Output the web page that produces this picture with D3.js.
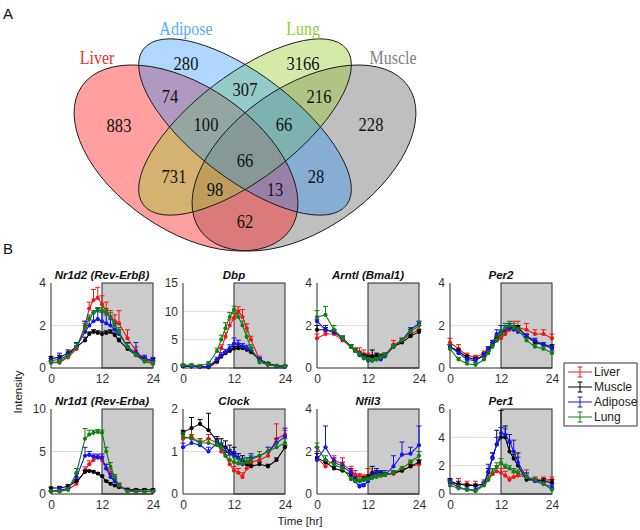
<!DOCTYPE html>
<html><head><meta charset="utf-8">
<script src="https://cdn.jsdelivr.net/npm/d3@7"></script>
<style>body{margin:0;background:#fff}svg{display:block}</style>
</head><body><svg id="c" width="640" height="530"></svg>
<script>
// ---------- Venn data ----------
const vennNames = ["Liver", "Adipose", "Lung", "Muscle"];
const vennRegions = ["L","A","G","M","LA","AG","GM","LG","AM","LM","LAG","AGM","LGM","LAM","LAGM"];
const vennCounts  = [883, 280, 3166, 228, 74, 307, 216, 731, 28, 62, 100, 66, 98, 13, 66];

// ---------- time-course data ----------
const times = [0,2,4,6,8,9,10,11,12,13,14,15,16,18,20,22,24];
const genes = ["Nr1d2 (Rev-Erbβ)", "Dbp", "Arntl (Bmal1)", "Per2", "Nr1d1 (Rev-Erba)", "Clock", "Nfil3", "Per1"];
const yMaxes = [4, 15, 4, 4, 10, 2, 4, 6];
const yTickSteps = [2, 5, 2, 2, 5, 1, 2, 2];
const xTicks = [0, 12, 24];
const tissues = ["Liver", "Muscle", "Adipose", "Lung"];

const liverMean = [
  [0.25,0.25,0.5,0.9,2.0,2.8,3.2,3.3,3.0,2.7,2.4,2.2,2.1,1.4,0.8,0.4,0.2],
  [0.3,0.3,0.2,0.1,1.0,3.5,5.5,7.5,8.8,10.0,9.0,7.0,5.0,1.5,0.6,0.4,0.3],
  [1.4,1.6,1.6,1.3,1.0,0.85,0.75,0.65,0.6,0.5,0.45,0.5,0.6,1.1,1.3,1.6,1.8],
  [1.2,0.9,0.6,0.5,0.7,0.9,1.1,1.3,1.4,1.6,1.8,1.9,1.9,1.8,1.6,1.6,1.4],
  [0.3,0.3,0.5,1.2,2.8,3.5,4.0,4.3,4.0,3.0,2.5,1.8,1.0,0.5,0.4,0.3,0.3],
  [1.3,1.35,1.2,1.3,1.2,1.0,0.9,0.7,0.55,0.5,0.4,0.6,0.75,0.8,0.9,1.3,1.4],
  [1.7,1.3,1.6,1.4,1.1,0.9,0.85,0.8,0.8,0.85,0.85,0.9,0.9,0.95,1.1,1.3,1.4],
  [0.8,0.7,0.7,0.6,0.7,1.0,1.4,1.6,1.5,1.3,1.0,1.2,1.3,1.2,1.0,1.0,1.0]
];
const liverErr = [
  [0.05,0.1,0.1,0.15,0.2,0.3,0.5,0.5,0.4,0.4,0.3,0.3,0.6,0.4,0.2,0.15,0.1],
  [0.2,0.2,0.2,0.2,0.5,0.6,0.8,1.0,0.8,0.8,1.3,0.8,0.6,0.6,0.3,0.2,0.2],
  [0.2,0.1,0.1,0.1,0.1,0.1,0.2,0.2,0.1,0.1,0.1,0.1,0.1,0.2,0.1,0.1,0.2],
  [0.2,0.2,0.1,0.1,0.1,0.1,0.2,0.2,0.2,0.2,0.3,0.3,0.3,0.3,0.2,0.2,0.2],
  [0.1,0.1,0.2,0.3,0.4,0.4,0.4,0.4,0.4,0.5,0.4,0.3,0.3,0.2,0.1,0.1,0.1],
  [0.1,0.45,0.1,0.1,0.1,0.1,0.1,0.1,0.1,0.1,0.1,0.1,0.1,0.1,0.1,0.35,0.1],
  [0.3,0.2,0.2,0.3,0.2,0.2,0.1,0.1,0.4,0.1,0.1,0.1,0.1,0.1,0.1,0.2,0.2],
  [0.2,0.4,0.2,0.3,0.3,0.3,0.3,0.4,0.3,0.3,0.2,0.3,0.3,0.5,0.2,0.2,0.2]
];
const muscleMean = [
  [0.45,0.5,0.7,1.0,1.3,1.6,1.7,1.65,1.6,1.65,1.7,1.55,1.3,0.9,0.6,0.4,0.35],
  [0.3,0.3,0.2,0.2,1.2,2.0,2.6,3.0,3.4,3.5,3.5,3.2,2.8,1.5,0.8,0.4,0.3],
  [1.8,1.8,1.7,1.4,1.0,0.8,0.65,0.55,0.5,0.55,0.6,0.55,0.6,1.0,1.2,1.5,1.7],
  [1.0,0.8,0.5,0.4,0.6,0.8,1.1,1.4,1.6,1.8,1.9,1.9,1.9,1.5,1.2,1.1,1.0],
  [0.7,0.7,0.9,1.5,2.6,2.7,2.6,2.4,2.1,1.5,1.2,1.0,0.8,0.5,0.5,0.5,0.5],
  [1.45,1.55,1.65,1.5,1.25,1.15,1.1,1.0,0.95,0.85,0.8,0.7,0.65,0.7,0.65,0.8,1.1],
  [1.7,1.5,1.2,1.1,0.9,0.7,0.6,0.7,0.8,1.0,1.0,0.95,0.9,1.0,1.1,1.3,1.5],
  [0.9,0.7,0.6,0.6,0.7,1.5,2.6,3.5,4.0,4.0,3.0,2.5,2.0,1.0,1.0,0.9,0.8]
];
const muscleErr = [
  [0.1,0.1,0.15,0.15,0.15,0.1,0.1,0.1,0.1,0.1,0.1,0.1,0.1,0.1,0.1,0.1,0.1],
  [0.1,0.1,0.1,0.1,0.2,0.3,0.3,0.3,0.4,0.3,0.3,0.3,0.3,0.2,0.1,0.1,0.1],
  [0.2,0.1,0.1,0.1,0.1,0.1,0.1,0.1,0.1,0.3,0.1,0.1,0.1,0.1,0.1,0.1,0.1],
  [0.1,0.1,0.1,0.1,0.1,0.1,0.1,0.1,0.1,0.2,0.1,0.1,0.1,0.1,0.1,0.1,0.1],
  [0.1,0.2,0.2,0.2,0.2,0.1,0.1,0.1,0.1,0.1,0.1,0.1,0.1,0.1,0.1,0.1,0.1],
  [0.05,0.25,0.1,0.4,0.1,0.15,0.15,0.15,0.15,0.1,0.1,0.05,0.05,0.05,0.05,0.05,0.05],
  [0.2,0.1,0.1,0.1,0.1,0.1,0.1,0.1,0.1,0.3,0.1,0.1,0.1,0.1,0.1,0.1,0.1],
  [0.2,0.2,0.1,0.1,0.1,0.3,0.3,1.0,1.9,0.8,0.6,0.3,0.9,0.2,0.1,0.2,0.2]
];
const adiposeMean = [
  [0.35,0.4,0.6,1.0,1.7,2.0,2.2,2.3,2.2,2.1,2.0,1.8,1.6,1.0,0.7,0.45,0.35],
  [0.4,0.3,0.2,0.3,1.5,2.2,2.8,3.5,4.3,4.2,3.8,3.5,3.2,1.5,0.6,0.3,0.2],
  [2.2,1.8,1.7,1.4,1.0,0.8,0.6,0.5,0.35,0.35,0.4,0.4,0.55,1.0,1.3,1.8,2.1],
  [1.0,0.7,0.4,0.35,0.6,0.9,1.2,1.6,1.7,1.8,1.9,1.8,1.7,1.5,1.3,1.1,0.9],
  [0.3,0.5,0.6,2.0,4.5,4.6,4.4,4.3,4.3,3.0,2.0,1.5,1.0,0.4,0.3,0.3,0.3],
  [1.1,1.2,1.15,1.0,1.2,1.1,1.0,0.95,0.9,0.85,0.7,0.75,0.85,0.9,1.0,1.2,1.35],
  [1.6,2.2,1.5,1.3,1.0,0.6,0.35,0.4,0.6,0.8,1.0,0.9,0.9,1.3,1.85,1.9,2.3],
  [0.8,0.5,0.3,0.3,0.7,1.6,2.5,3.5,4.3,4.2,3.7,3.0,2.2,1.2,0.9,0.7,0.5]
];
const adiposeErr = [
  [0.1,0.3,0.15,0.2,0.5,0.4,0.4,0.5,0.4,0.4,0.3,0.3,0.2,0.2,0.5,0.15,0.15],
  [0.2,0.1,0.1,0.2,0.4,0.5,0.5,0.6,1.0,0.7,0.5,0.5,0.4,0.3,0.2,0.2,0.2],
  [0.1,0.2,0.1,0.1,0.1,0.1,0.1,0.1,0.1,0.1,0.1,0.1,0.1,0.1,0.1,0.1,0.1],
  [0.1,0.1,0.1,0.1,0.1,0.1,0.1,0.2,0.3,0.2,0.2,0.2,0.1,0.1,0.1,0.1,0.1],
  [0.1,0.3,0.2,0.4,1.0,0.4,0.3,0.3,0.4,0.5,0.4,0.3,0.2,0.1,0.1,0.1,0.1],
  [0.1,0.1,0.1,0.1,0.1,0.1,0.1,0.1,0.1,0.1,0.1,0.1,0.1,0.1,0.1,0.1,0.2],
  [0.6,1.0,0.2,0.2,0.2,0.2,0.1,0.1,0.1,0.2,0.2,0.2,0.2,0.5,0.6,0.3,0.9],
  [0.2,0.2,0.2,0.2,0.2,0.5,0.4,0.5,0.4,0.4,0.5,0.8,0.4,0.3,0.2,0.2,0.2]
];
const lungMean = [
  [0.25,0.3,0.55,1.0,1.9,2.3,2.6,2.7,2.7,2.6,2.4,2.0,1.7,1.0,0.6,0.3,0.2],
  [0.5,0.5,0.4,0.8,3.0,5.0,7.0,9.0,10.3,9.0,7.5,5.5,3.5,1.0,0.6,0.4,0.3],
  [2.4,2.5,1.8,1.4,1.0,0.8,0.65,0.45,0.4,0.35,0.4,0.5,0.6,1.0,1.3,1.7,2.0],
  [0.9,0.4,0.2,0.15,0.4,0.7,1.0,1.3,1.6,1.9,2.0,1.9,1.8,1.3,1.0,0.9,0.7],
  [0.3,0.3,0.5,2.5,6.5,7.0,7.2,7.3,7.2,5.0,3.2,2.0,1.0,0.3,0.3,0.3,0.3],
  [1.35,1.3,1.2,1.2,1.15,1.1,0.9,0.8,0.75,0.72,0.72,0.75,0.8,0.9,1.0,1.1,1.2],
  [2.2,1.6,1.4,1.2,0.7,0.6,0.6,0.65,0.7,0.75,0.8,0.85,0.9,1.0,1.2,1.5,1.8],
  [0.6,0.4,0.3,0.2,0.6,1.0,1.5,1.9,2.2,1.9,1.8,1.6,1.5,1.2,1.0,0.7,0.3]
];
const lungErr = [
  [0.1,0.1,0.1,0.15,0.2,0.2,0.1,0.15,0.15,0.2,0.2,0.2,0.2,0.15,0.1,0.1,0.1],
  [0.2,0.2,0.2,0.3,0.5,0.8,1.0,0.8,0.6,0.6,0.8,1.0,0.6,0.4,0.3,0.2,0.2],
  [0.3,0.4,0.2,0.1,0.1,0.1,0.1,0.1,0.1,0.1,0.1,0.1,0.1,0.1,0.1,0.1,0.2],
  [0.2,0.1,0.1,0.1,0.1,0.1,0.1,0.2,0.2,0.2,0.2,0.2,0.1,0.1,0.1,0.1,0.1],
  [0.1,0.1,0.2,0.5,1.2,0.5,0.3,0.3,0.3,0.5,0.5,0.3,0.2,0.1,0.1,0.1,0.1],
  [0.1,0.1,0.1,0.1,0.1,0.1,0.1,0.1,0.1,0.1,0.1,0.1,0.1,0.1,0.1,0.1,0.1],
  [0.2,0.2,0.1,0.1,0.1,0.1,0.1,0.1,0.1,0.1,0.1,0.1,0.1,0.1,0.1,0.1,0.2],
  [0.3,0.2,0.1,0.1,0.2,0.2,0.3,0.3,0.3,0.2,0.2,0.2,0.2,0.2,0.1,0.1,0.1]
];

// ---------- drawing ----------
const svg = d3.select("#c");
const serif = "'Liberation Serif','Times New Roman',serif";
const sans = "'Liberation Sans',Arial,sans-serif";

// panel letters
svg.append("text").attr("x", 3).attr("y", 19).text("A")
  .attr("font-family", sans).attr("font-size", 15).attr("fill", "#111");
svg.append("text").attr("x", 3).attr("y", 254).text("B")
  .attr("font-family", sans).attr("font-size", 15).attr("fill", "#111");

// Venn ellipses (draw order: Muscle, Liver, Lung, Adipose)
const ellipses = [
  {set: "Muscle",  cx: 304, cy: 158, rx: 126.5, ry: 72, rot: -34.5, fill: "#808080", op: 0.5},
  {set: "Liver",   cx: 186, cy: 158, rx: 126.5, ry: 72, rot: 34.5,  fill: "#ff1a1a", op: 0.42},
  {set: "Lung",    cx: 245, cy: 127, rx: 128,   ry: 52, rot: -37.5, fill: "#9acd32", op: 0.42},
  {set: "Adipose", cx: 245, cy: 127, rx: 128,   ry: 52, rot: 37.5,  fill: "#1e90ff", op: 0.35}
];
const venn = svg.append("g");
venn.selectAll("ellipse.f").data(ellipses).join("ellipse").attr("class", "f")
  .attr("cx", 0).attr("cy", 0).attr("rx", d => d.rx).attr("ry", d => d.ry)
  .attr("transform", d => `translate(${d.cx},${d.cy}) rotate(${d.rot})`)
  .attr("fill", d => d.fill).attr("fill-opacity", d => d.op).attr("stroke", "none");
venn.selectAll("ellipse.s").data(ellipses).join("ellipse").attr("class", "s")
  .attr("cx", 0).attr("cy", 0).attr("rx", d => d.rx).attr("ry", d => d.ry)
  .attr("transform", d => `translate(${d.cx},${d.cy}) rotate(${d.rot})`)
  .attr("fill", "none").attr("stroke", "#1a1a1a").attr("stroke-width", 0.9);

const regionPos = {L:[119,125], A:[186,63], G:[303,63], M:[371,124], LA:[170,96], AG:[245,89],
  GM:[319,96], LG:[174,176], AM:[316,176], LM:[245,221], LAG:[206,124], AGM:[284,124],
  LGM:[215,189], LAM:[275,189], LAGM:[245,160]};
venn.selectAll("text.n").data(vennRegions).join("text").attr("class", "n")
  .attr("transform", d => `translate(${regionPos[d][0]},${regionPos[d][1]}) scale(0.87,1)`)
  .attr("text-anchor", "middle").attr("dy", "0.35em")
  .attr("font-family", serif).attr("font-size", 19).attr("fill", "#111")
  .text((d, i) => vennCounts[i]);

const labelPos = {Liver:[97,57], Adipose:[186,28], Lung:[303,28], Muscle:[393,57]};
const labelCol = {Liver:"#e8312f", Adipose:"#55aef0", Lung:"#97c93c", Muscle:"#7f7f7f"};
venn.selectAll("text.l").data(vennNames).join("text").attr("class", "l")
  .attr("transform", d => `translate(${labelPos[d][0]},${labelPos[d][1]}) scale(0.82,1)`)
  .attr("text-anchor", "middle").attr("dy", "0.35em")
  .attr("font-family", serif).attr("font-size", 19.5).attr("fill", d => labelCol[d])
  .text(d => d);

// ---------- small multiples ----------
const colX = [51, 183, 317, 450];
const rowY = [283, 409];
const pw = 102, ph = 85;
const tissueColor = {Liver: "#f01414", Muscle: "#000000", Adipose: "#1414f0", Lung: "#118011"};
const means = {Liver: liverMean, Muscle: muscleMean, Adipose: adiposeMean, Lung: lungMean};
const errs = {Liver: liverErr, Muscle: muscleErr, Adipose: adiposeErr, Lung: lungErr};

genes.forEach((gene, gi) => {
  const x0 = colX[gi % 4], y0 = rowY[Math.floor(gi / 4)];
  const x = d3.scaleLinear().domain([0, 24]).range([x0, x0 + pw]);
  const y = d3.scaleLinear().domain([0, yMaxes[gi]]).range([y0 + ph, y0]);
  const g = svg.append("g");
  const yt = d3.range(0, yMaxes[gi] + 1e-9, yTickSteps[gi]);

  g.selectAll("line.grid").data(yt.filter(v => v > 0 && v < yMaxes[gi])).join("line")
    .attr("x1", x(0)).attr("x2", x(24)).attr("y1", d => y(d)).attr("y2", d => y(d))
    .attr("stroke", "#dedede").attr("stroke-width", 1);
  g.append("rect").attr("x", x(12)).attr("y", y(yMaxes[gi]))
    .attr("width", x(24) - x(12)).attr("height", y(0) - y(yMaxes[gi]))
    .attr("fill", "#cbcbcb").attr("stroke", "#2a2a2a").attr("stroke-width", 1);
  g.append("line").attr("x1", x(0)).attr("x2", x(0)).attr("y1", y(0)).attr("y2", y(yMaxes[gi]))
    .attr("stroke", "#2a2a2a");
  g.append("line").attr("x1", x(0)).attr("x2", x(24)).attr("y1", y(0)).attr("y2", y(0))
    .attr("stroke", "#2a2a2a");

  const ax = g.append("g").attr("transform", `translate(0,${y(0)})`)
    .call(d3.axisBottom(x).tickValues(xTicks).tickSize(0).tickPadding(6).tickFormat(d3.format("d")));
  const ay = g.append("g").attr("transform", `translate(${x(0)},0)`)
    .call(d3.axisLeft(y).tickValues(yt).tickSize(0).tickPadding(5).tickFormat(d3.format("d")));
  [ax, ay].forEach(a => {
    a.select(".domain").remove();
    a.selectAll("text").attr("font-family", sans).attr("font-size", 12).attr("fill", "#333");
  });

  g.append("text").attr("x", x(12)).attr("y", y0 - 4).attr("text-anchor", "middle")
    .attr("font-family", sans).attr("font-size", 11.5).attr("font-weight", "bold")
    .attr("font-style", "italic").attr("fill", "#111").text(gene);

  tissues.forEach(t => {
    const m = means[t][gi], e = errs[t][gi], c = tissueColor[t];
    const pts = times.map((tt, i) => ({t: tt, v: m[i], e: e[i]}));
    const sg = g.append("g");
    sg.append("path").datum(pts)
      .attr("d", d3.line().x(d => x(d.t)).y(d => y(d.v)))
      .attr("fill", "none").attr("stroke", c).attr("stroke-width", 1.1);
    sg.selectAll("line.eb").data(pts).join("line").attr("class", "eb")
      .attr("x1", d => x(d.t)).attr("x2", d => x(d.t))
      .attr("y1", d => y(d.v)).attr("y2", d => y(d.v + d.e))
      .attr("stroke", c).attr("stroke-width", 1);
    sg.selectAll("line.cap").data(pts).join("line").attr("class", "cap")
      .attr("x1", d => x(d.t) - 2.5).attr("x2", d => x(d.t) + 2.5)
      .attr("y1", d => y(d.v + d.e)).attr("y2", d => y(d.v + d.e))
      .attr("stroke", c).attr("stroke-width", 1);
    sg.selectAll("circle").data(pts).join("circle")
      .attr("cx", d => x(d.t)).attr("cy", d => y(d.v)).attr("r", 2.1).attr("fill", c);
  });
});

svg.append("text").attr("transform", "translate(22,392) rotate(-90)").attr("text-anchor", "middle")
  .attr("font-family", sans).attr("font-size", 11.5).attr("fill", "#222").text("Intensity");
svg.append("text").attr("x", 300).attr("y", 525).attr("text-anchor", "middle")
  .attr("font-family", sans).attr("font-size", 11.5).attr("fill", "#222").text("Time [hr]");

const lg = svg.append("g");
lg.append("rect").attr("x", 564).attr("y", 363).attr("width", 73).attr("height", 63)
  .attr("fill", "#fff").attr("stroke", "#333").attr("stroke-width", 1);
const ly = d3.scalePoint().domain(tissues).range([372, 417]);
tissues.forEach(t => {
  const yy = ly(t), c = tissueColor[t];
  lg.append("line").attr("x1", 568).attr("x2", 592).attr("y1", yy).attr("y2", yy).attr("stroke", c);
  lg.append("line").attr("x1", 580).attr("x2", 580).attr("y1", yy - 5).attr("y2", yy + 5).attr("stroke", c);
  lg.append("line").attr("x1", 577.5).attr("x2", 582.5).attr("y1", yy - 5).attr("y2", yy - 5).attr("stroke", c);
  lg.append("line").attr("x1", 577.5).attr("x2", 582.5).attr("y1", yy + 5).attr("y2", yy + 5).attr("stroke", c);
  lg.append("text").attr("x", 594).attr("y", yy).attr("dy", "0.35em")
    .attr("font-family", sans).attr("font-size", 12).attr("fill", "#222").text(t);
});
</script></body></html>
